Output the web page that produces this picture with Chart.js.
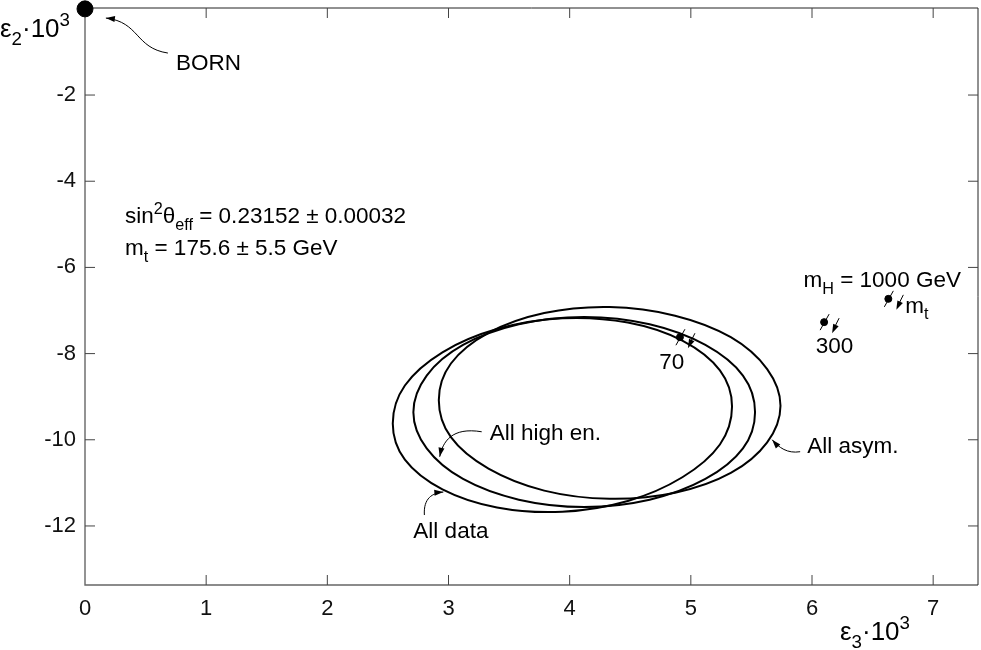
<!DOCTYPE html>
<html lang="en">
<head>
  <meta charset="UTF-8">
  <title>epsilon2 vs epsilon3</title>
  <style>
    html, body { margin: 0; padding: 0; background: #fff; }
    #wrap { width: 981px; height: 650px; }
  </style>
</head>
<body>
  <div id="wrap"><canvas id="chart"></canvas></div>

  <script src="https://cdn.jsdelivr.net/npm/chart.js"></script>
  <script>
    const FONT = '"Liberation Sans", Arial, Helvetica, sans-serif';

    // axes
    const xTicks = [0, 1, 2, 3, 4, 5, 6, 7];
    const yTicks = [-12, -10, -8, -6, -4, -2];

    // contours (points read around each ellipse)
    const allDataX = [5.34, 5.24, 4.93, 4.48, 3.94, 3.40, 2.95, 2.64, 2.54, 2.64, 2.95, 3.40, 3.94, 4.48, 4.93, 5.24];
    const allDataY = [-9.23, -10.11, -10.87, -11.42, -11.67, -11.57, -11.15, -10.46, -9.62, -8.74, -7.97, -7.43, -7.18, -7.28, -7.70, -8.39];

    const highEnX = [5.53, 5.43, 5.12, 4.66, 4.12, 3.58, 3.12, 2.82, 2.71, 2.82, 3.12, 3.58, 4.12, 4.66, 5.12, 5.43];
    const highEnY = [-9.36, -10.20, -10.91, -11.39, -11.56, -11.39, -10.91, -10.20, -9.36, -8.51, -7.80, -7.32, -7.15, -7.32, -7.80, -8.51];

    const asymX = [5.74, 5.63, 5.33, 4.87, 4.33, 3.79, 3.33, 3.02, 2.92, 3.02, 3.33, 3.79, 4.33, 4.87, 5.33, 5.63];
    const asymY = [-9.21, -10.06, -10.77, -11.23, -11.37, -11.18, -10.67, -9.94, -9.08, -8.23, -7.52, -7.06, -6.92, -7.12, -7.62, -8.36];

    // Born point and SM predictions for m_H
    const bornX = [0];
    const bornY = [0];
    const mhLabels = ['70', '300', '1000'];
    const mhX = [4.91, 6.10, 6.63];
    const mhY = [-7.62, -7.27, -6.73];

    // wrap the list so the spline closes smoothly; first and last pieces are hidden
    function ring(xs, ys) {
      const n = xs.length;
      const pts = [];
      for (let i = -1; i <= n + 1; i++) {
        const k = (i + n) % n;
        pts.push({ x: xs[k], y: ys[k] });
      }
      return pts;
    }

    function ringSet(label, xs, ys) {
      const pts = ring(xs, ys);
      const last = pts.length - 1;
      return {
        label: label,
        data: pts,
        showLine: true,
        tension: 0.34,
        pointRadius: 0,
        borderColor: '#000',
        borderWidth: 2,
        segment: {
          borderColor: c => (c.p0DataIndex === 0 || c.p1DataIndex === last) ? 'rgba(0,0,0,0)' : '#000'
        }
      };
    }

    // text notes, anchored in data units (left, baseline); arrows are pixel offsets from the anchor
    const notes = [
      { x: 0.75, y: -1.42, parts: [['BORN', 'n']], arrow: [[-8, -17], [-41, -22], [-36, -48], [-70, -52]] },
      { x: 0.33, y: -4.97, parts: [['sin', 'n'], ['2', 'sup'], ['θ', 'n'], ['eff', 'sub'], [' = 0.23152 ± 0.00032', 'n']] },
      { x: 0.33, y: -5.71, parts: [['m', 'n'], ['t', 'sub'], [' = 175.6 ± 5.5 GeV', 'n']] },
      { x: 5.93, y: -6.45, parts: [['m', 'n'], ['H', 'sub'], [' = 1000 GeV', 'n']] },
      { x: 6.77, y: -7.05, parts: [['m', 'n'], ['t', 'sub']] },
      { x: 6.03, y: -7.98, parts: [['300', 'n']] },
      { x: 4.74, y: -8.35, parts: [['70', 'n']] },
      { x: 3.34, y: -10.0, parts: [['All high en.', 'n']], arrow: [[-8, -8], [-38, -13], [-47, 2], [-50, 17]] },
      { x: 2.71, y: -12.28, parts: [['All data', 'n']], arrow: [[11, -23], [10, -40], [19, -45], [30, -46]] },
      { x: 5.96, y: -10.30, parts: [['All asym.', 'n']], arrow: [[-7, -1], [-20, 1], [-28, -5], [-35, -13]] }
    ];

    function rich(ctx, x, y, parts, size) {
      let cx = x;
      parts.forEach(([t, m]) => {
        const s = m === 'n' ? size : size * 0.72;
        const dy = m === 'sub' ? size * 0.3 : (m === 'sup' ? -size * 0.42 : 0);
        ctx.font = s + 'px ' + FONT;
        ctx.fillText(t, cx, y + dy);
        cx += ctx.measureText(t).width;
      });
    }

    function head(ctx, fx, fy, tx, ty) {
      const a = Math.atan2(ty - fy, tx - fx);
      ctx.beginPath();
      ctx.moveTo(tx, ty);
      ctx.lineTo(tx - 9 * Math.cos(a) + 3 * Math.sin(a), ty - 9 * Math.sin(a) - 3 * Math.cos(a));
      ctx.lineTo(tx - 9 * Math.cos(a) - 3 * Math.sin(a), ty - 9 * Math.sin(a) + 3 * Math.cos(a));
      ctx.closePath();
      ctx.fill();
    }

    const framePlugin = {
      id: 'frame',
      beforeDatasetsDraw(chart) {
        const { ctx, chartArea: a, scales: { x, y } } = chart;
        ctx.save();
        ctx.lineWidth = 1.4;
        ctx.strokeStyle = '#666';
        ctx.beginPath();
        ctx.moveTo(a.left, a.top);
        ctx.lineTo(a.left, a.bottom);
        ctx.lineTo(a.right, a.bottom);
        ctx.stroke();
        ctx.strokeStyle = '#222';
        ctx.lineWidth = 1;
        ctx.beginPath();
        ctx.moveTo(a.left, a.top);
        ctx.lineTo(a.right, a.top);
        ctx.lineTo(a.right, a.bottom);
        ctx.stroke();

        ctx.strokeStyle = '#444';
        ctx.beginPath();
        xTicks.forEach(v => {
          if (v === 0) return;
          const px = x.getPixelForValue(v);
          ctx.moveTo(px, a.bottom); ctx.lineTo(px, a.bottom - 10);
          ctx.moveTo(px, a.top); ctx.lineTo(px, a.top + 10);
        });
        yTicks.forEach(v => {
          const py = y.getPixelForValue(v);
          ctx.moveTo(a.left, py); ctx.lineTo(a.left + 10, py);
          ctx.moveTo(a.right, py); ctx.lineTo(a.right - 10, py);
        });
        ctx.stroke();
        ctx.restore();
      },
      afterDraw(chart) {
        const { ctx, scales: { x, y } } = chart;
        ctx.save();
        ctx.fillStyle = '#000';
        ctx.strokeStyle = '#000';
        ctx.textAlign = 'left';
        ctx.textBaseline = 'alphabetic';

        // axis titles
        rich(ctx, 0, 37, [['ε', 'n'], ['2', 'sub'], ['·10', 'n'], ['3', 'sup']], 26);
        rich(ctx, 840, 640, [['ε', 'n'], ['3', 'sub'], ['·10', 'n'], ['3', 'sup']], 26);

        notes.forEach(nt => {
          const ax = x.getPixelForValue(nt.x);
          const ay = y.getPixelForValue(nt.y);
          rich(ctx, ax, ay, nt.parts, 22.5);
          if (nt.arrow) {
            const p = nt.arrow.map(([dx, dy]) => [ax + dx, ay + dy]);
            ctx.lineWidth = 1;
            ctx.beginPath();
            ctx.moveTo(p[0][0], p[0][1]);
            ctx.bezierCurveTo(p[1][0], p[1][1], p[2][0], p[2][1], p[3][0], p[3][1]);
            ctx.stroke();
            head(ctx, p[2][0], p[2][1], p[3][0], p[3][1]);
          }
        });

        // m_t direction marks at each m_H point
        mhX.forEach((v, i) => {
          const px = x.getPixelForValue(v);
          const py = y.getPixelForValue(mhY[i]);
          ctx.lineWidth = 1;
          ctx.beginPath();
          ctx.moveTo(px - 4, py + 8);
          ctx.lineTo(px + 5, py - 8);
          ctx.moveTo(px + 15, py - 4);
          ctx.lineTo(px + 9, py + 8);
          ctx.stroke();
          head(ctx, px + 15, py - 4, px + 8, py + 11);
        });
        ctx.restore();
      }
    };

    new Chart(document.getElementById('chart'), {
      type: 'scatter',
      data: {
        datasets: [
          ringSet('All data', allDataX, allDataY),
          ringSet('All high en.', highEnX, highEnY),
          ringSet('All asym.', asymX, asymY),
          {
            label: 'BORN',
            data: bornX.map((v, i) => ({ x: v, y: bornY[i] })),
            pointRadius: 8,
            backgroundColor: '#000',
            borderColor: '#000',
            clip: false
          },
          {
            label: 'm_H',
            data: mhX.map((v, i) => ({ x: v, y: mhY[i], m: mhLabels[i] })),
            pointRadius: 3.5,
            backgroundColor: '#000',
            borderColor: '#000'
          }
        ]
      },
      options: {
        responsive: true,
        maintainAspectRatio: false,
        animation: false,
        events: [],
        layout: { autoPadding: false, padding: { left: 0, right: 3, top: 8, bottom: 0 } },
        plugins: { legend: { display: false }, tooltip: { enabled: false } },
        scales: {
          x: {
            type: 'linear',
            min: 0,
            max: 7.37,
            afterBuildTicks: s => { s.ticks = xTicks.map(v => ({ value: v })); },
            afterFit: s => { s.height = 65; s.paddingLeft = 0; s.paddingRight = 0; },
            grid: { display: false, drawTicks: false },
            border: { display: false },
            ticks: {
              autoSkip: false, maxRotation: 0, padding: 11, color: '#111',
              font: { family: FONT, size: 22 },
              callback: v => String(v)
            }
          },
          y: {
            type: 'linear',
            min: -13.37,
            max: 0.02,
            afterBuildTicks: s => { s.ticks = yTicks.map(v => ({ value: v })); },
            afterFit: s => { s.width = 85; s.paddingTop = 0; s.paddingBottom = 0; },
            grid: { display: false, drawTicks: false },
            border: { display: false },
            ticks: {
              autoSkip: false, padding: 9, color: '#111',
              font: { family: FONT, size: 22 },
              callback: v => String(v)
            }
          }
        }
      },
      plugins: [framePlugin]
    });
  </script>
</body>
</html>
